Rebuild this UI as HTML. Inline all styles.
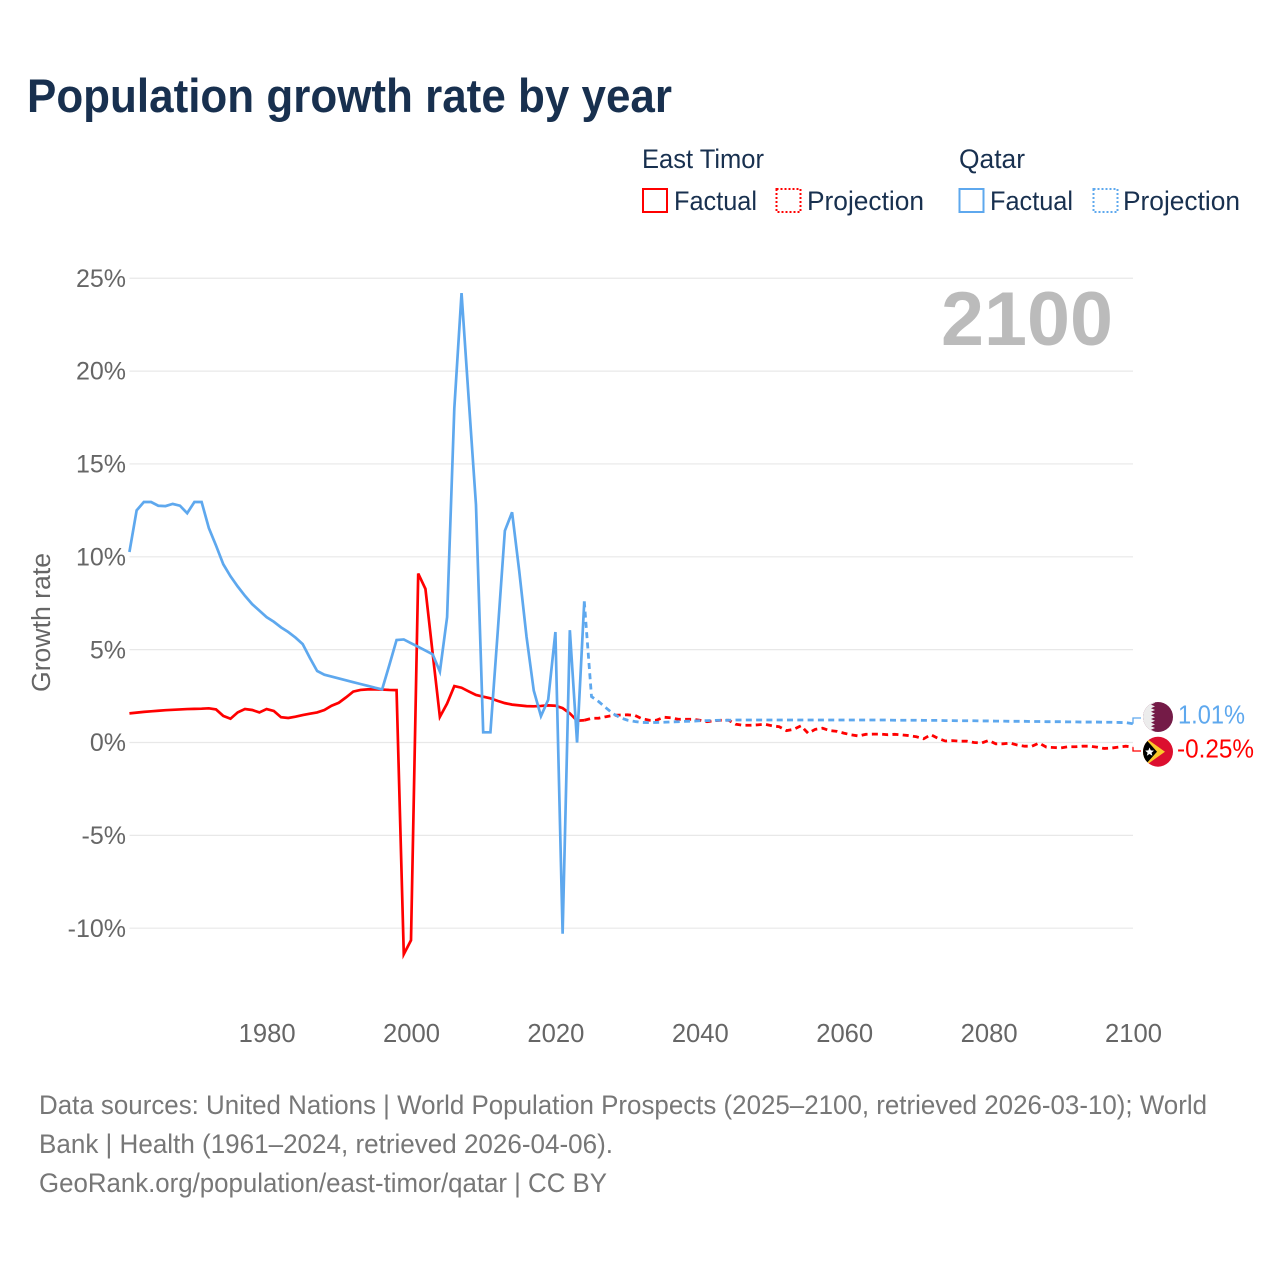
<!DOCTYPE html>
<html lang="en">
<head>
<meta charset="utf-8">
<title>Population growth rate by year</title>
<style>
html,body{margin:0;padding:0;background:#fff;}
svg{display:block;font-family:"Liberation Sans",sans-serif;}
</style>
</head>
<body>
<svg id="chart" xmlns="http://www.w3.org/2000/svg" width="1280" height="1280" viewBox="0 0 1280 1280">
  <defs>
    <clipPath id="clip-qatar"><circle cx="1158" cy="717" r="15"/></clipPath>
    <clipPath id="clip-timor"><circle cx="1158" cy="751.7" r="15"/></clipPath>
  </defs>
  <rect x="0" y="0" width="1280" height="1280" fill="#ffffff"/>

  <text x="27" y="112" font-size="47" font-weight="700" fill="#18304f" textLength="645" lengthAdjust="spacingAndGlyphs">Population growth rate by year</text>

  <g font-size="27" fill="#18304f">
    <text x="642" y="168" textLength="122" lengthAdjust="spacingAndGlyphs">East Timor</text>
    <text x="959" y="168" textLength="66" lengthAdjust="spacingAndGlyphs">Qatar</text>
    <rect x="643" y="189" width="24" height="23" fill="none" stroke="#ff0000" stroke-width="2"/>
    <text x="674" y="210" textLength="83" lengthAdjust="spacingAndGlyphs">Factual</text>
    <rect x="776.5" y="189" width="24" height="23" fill="none" stroke="#ff0000" stroke-width="2" stroke-dasharray="2 2"/>
    <text x="807" y="210" textLength="117" lengthAdjust="spacingAndGlyphs">Projection</text>
    <rect x="959.5" y="189" width="24" height="23" fill="none" stroke="#5ea8ee" stroke-width="2"/>
    <text x="990" y="210" textLength="83" lengthAdjust="spacingAndGlyphs">Factual</text>
    <rect x="1093.5" y="189" width="24" height="23" fill="none" stroke="#5ea8ee" stroke-width="2" stroke-dasharray="2 2"/>
    <text x="1123" y="210" textLength="117" lengthAdjust="spacingAndGlyphs">Projection</text>
  </g>

  <g id="grid"></g>
  <g id="yticks" font-size="25" fill="#666666" text-anchor="end"></g>
  <g id="xticks" font-size="25.6" fill="#666666" text-anchor="middle"></g>

  <text transform="translate(50,622.5) rotate(-90)" font-size="25.5" fill="#666666" text-anchor="middle" textLength="139" lengthAdjust="spacingAndGlyphs">Growth rate</text>

  <text x="1113" y="345" font-size="76" font-weight="700" fill="#bbbbbb" text-anchor="end" textLength="172" lengthAdjust="spacingAndGlyphs">2100</text>

  <g id="series"></g>

  <g clip-path="url(#clip-qatar)">
    <rect x="1142" y="701" width="32" height="32" fill="#741b47"/>
    <polygon points="1142,701 1151,701 1155,702.8 1151,704.6 1155,706.4 1151,708.2 1155,710 1151,711.8 1155,713.6 1151,715.4 1155,717.2 1151,719 1155,720.8 1151,722.6 1155,724.4 1151,726.2 1155,728 1151,729.8 1155,731.6 1151,733 1142,733" fill="#ececec"/>
  </g>
  <g clip-path="url(#clip-timor)">
    <rect x="1142" y="736" width="32" height="32" fill="#dc0f2f"/>
    <polygon points="1143,736 1165,751.7 1143,767.4" fill="#fbc82a"/>
    <polygon points="1143,736 1157,751.7 1143,767.4" fill="#000000"/>
    <polygon points="1149.5,747.5 1150.8,750.4 1154,750.6 1151.5,752.7 1152.4,755.8 1149.5,754 1146.8,755.8 1147.6,752.7 1145.2,750.6 1148.4,750.4" fill="#ffffff"/>
  </g>

  <g font-size="27" fill="#777777">
    <text x="39" y="1114" textLength="1168" lengthAdjust="spacingAndGlyphs">Data sources: United Nations | World Population Prospects (2025–2100, retrieved 2026-03-10); World</text>
    <text x="39" y="1153" textLength="574" lengthAdjust="spacingAndGlyphs">Bank | Health (1961–2024, retrieved 2026-04-06).</text>
    <text x="39" y="1192" textLength="568" lengthAdjust="spacingAndGlyphs">GeoRank.org/population/east-timor/qatar | CC BY</text>
  </g>
</svg>

<script>
const yTickValues = [25, 20, 15, 10, 5, 0, -5, -10];
const yTickLabels = ["25%", "20%", "15%", "10%", "5%", "0%", "-5%", "-10%"];
const xTickYears = [1980, 2000, 2020, 2040, 2060, 2080, 2100];
const factualStartYear = 1961;
const projectionStartYear = 2024;

const qatarFactual = [
  10.26, 12.5, 12.95, 12.95, 12.75, 12.73, 12.85, 12.75, 12.35, 12.95,
  12.95, 11.55, 10.6, 9.6, 8.95, 8.4, 7.9, 7.45, 7.1, 6.75,
  6.5, 6.2, 5.95, 5.65, 5.3, 4.55, 3.85, 3.65, 3.55, 3.45,
  3.35, 3.25, 3.15, 3.05, 2.95, 2.86, 4.17, 5.52, 5.55, 5.35,
  5.15, 4.95, 4.75, 3.82, 6.75, 18.0, 24.2, 18.45, 12.8, 0.55,
  0.55, 5.9, 11.4, 12.4, 9.2, 5.7, 2.8, 1.42, 2.3, 5.95,
  -10.3, 6.05, 0.0, 7.6
];

const eastTimorFactual = [
  1.57, 1.61, 1.65, 1.68, 1.71, 1.74, 1.76, 1.78, 1.8, 1.81,
  1.82, 1.84, 1.78, 1.43, 1.28, 1.62, 1.8, 1.75, 1.62, 1.8,
  1.7, 1.36, 1.32, 1.39, 1.48, 1.55, 1.62, 1.75, 1.98, 2.14,
  2.43, 2.74, 2.83, 2.86, 2.86, 2.85, 2.83, 2.82, -11.4, -10.65,
  9.1, 8.27, 4.8, 1.38, 2.1, 3.04, 2.95, 2.75, 2.56, 2.47,
  2.38, 2.24, 2.12, 2.04, 2.0, 1.96, 1.95, 1.97, 2.0, 1.98,
  1.85, 1.57, 1.17, 1.2
];

const qatarProjection = [
  7.6, 2.47, 2.2, 1.87, 1.55, 1.33, 1.2, 1.13, 1.08, 1.07,
  1.08, 1.09, 1.11, 1.12, 1.14, 1.15, 1.17, 1.18, 1.19, 1.2,
  1.2, 1.21, 1.21, 1.21, 1.21, 1.21, 1.21, 1.21, 1.21, 1.21,
  1.21, 1.21, 1.21, 1.21, 1.21, 1.21, 1.21, 1.21, 1.21, 1.21,
  1.21, 1.21, 1.21, 1.2, 1.2, 1.2, 1.2, 1.19, 1.19, 1.19,
  1.18, 1.18, 1.17, 1.17, 1.17, 1.16, 1.16, 1.15, 1.15, 1.14,
  1.14, 1.14, 1.13, 1.13, 1.12, 1.12, 1.12, 1.11, 1.11, 1.1,
  1.1, 1.1, 1.09, 1.09, 1.08, 1.07, 1.01
];

const eastTimorProjection = [
  1.2, 1.3, 1.31, 1.39, 1.46, 1.48, 1.49, 1.46, 1.28, 1.2,
  1.2, 1.36, 1.33, 1.25, 1.25, 1.25, 1.2, 1.12, 1.17, 1.2,
  1.2, 0.98, 0.93, 0.93, 0.95, 0.98, 0.9, 0.85, 0.64, 0.71,
  0.9, 0.5, 0.71, 0.77, 0.64, 0.6, 0.5, 0.41, 0.35, 0.44,
  0.45, 0.45, 0.42, 0.44, 0.41, 0.37, 0.31, 0.2, 0.42, 0.22,
  0.08, 0.1, 0.07, 0.07, 0, -0.03, 0.11, -0.07, -0.07, -0.03,
  -0.14, -0.2, -0.2, -0.03, -0.25, -0.27, -0.29, -0.23, -0.23, -0.2,
  -0.2, -0.25, -0.32, -0.3, -0.25, -0.2, -0.25
];

const SVG_NS = "http://www.w3.org/2000/svg";
function xScale(year) { return 1133 + (year - 2100) * 7.22; }
function yScale(value) { return 742.5 - value * 18.57; }
function linePath(values, startYear) {
  return values.map(function (v, i) {
    return (i ? "L" : "M") + xScale(startYear + i).toFixed(2) + " " + yScale(v).toFixed(2);
  }).join(" ");
}
function make(tag, attrs, parent) {
  const el = document.createElementNS(SVG_NS, tag);
  Object.keys(attrs).forEach(function (k) { el.setAttribute(k, attrs[k]); });
  parent.appendChild(el);
  return el;
}

const gridGroup = document.getElementById("grid");
const yTickGroup = document.getElementById("yticks");
const xTickGroup = document.getElementById("xticks");
const seriesGroup = document.getElementById("series");

yTickValues.forEach(function (v, i) {
  const line = make("line", { x1: 129.5, x2: 1133, y1: yScale(v), y2: yScale(v), stroke: "#e8e8e8", "stroke-width": 1.2 }, gridGroup);
  
  
  const label = make("text", { x: 126, y: yScale(v) + 8.6 }, yTickGroup);
  
  
  label.textContent = yTickLabels[i];
});

xTickYears.forEach(function (yr) {
  const label = make("text", { x: xScale(yr) + 0.5, y: 1042 }, xTickGroup);
  
  
  label.textContent = String(yr);
});

const RED = "#ff0000";
const BLUE = "#5ea8ee";

const timorFactualLine = make("path", { d: linePath(eastTimorFactual, factualStartYear), fill: "none", stroke: RED, "stroke-width": 2.7, "stroke-linejoin": "miter" }, seriesGroup);



const timorProjectionLine = make("path", { d: linePath(eastTimorProjection, projectionStartYear), fill: "none", stroke: RED, "stroke-width": 2.8, "stroke-dasharray": "6 4.3" }, seriesGroup);



const qatarFactualLine = make("path", { d: linePath(qatarFactual, factualStartYear), fill: "none", stroke: BLUE, "stroke-width": 2.7, "stroke-linejoin": "miter" }, seriesGroup);



const qatarProjectionLine = make("path", { d: linePath(qatarProjection, projectionStartYear), fill: "none", stroke: BLUE, "stroke-width": 2.8, "stroke-dasharray": "6 4.3" }, seriesGroup);



const qatarLast = qatarProjection[qatarProjection.length - 1];
const timorLast = eastTimorProjection[eastTimorProjection.length - 1];

const qatarConnector = make("path", { d: "M" + xScale(2100) + " " + yScale(qatarLast) + " V718 H1141", fill: "none", stroke: BLUE, "stroke-width": 1.3 }, seriesGroup);



const timorConnector = make("path", { d: "M" + xScale(2100) + " " + yScale(timorLast) + " V751 H1141", fill: "none", stroke: RED, "stroke-width": 1.3 }, seriesGroup);



const qatarEndLabel = make("text", { x: 1178, y: 723.5, "font-size": 26, fill: BLUE, textLength: 67, lengthAdjust: "spacingAndGlyphs" }, seriesGroup);


qatarEndLabel.textContent = qatarLast.toFixed(2) + "%";

const timorEndLabel = make("text", { x: 1177, y: 757.5, "font-size": 26, fill: RED, textLength: 77, lengthAdjust: "spacingAndGlyphs" }, seriesGroup);


timorEndLabel.textContent = timorLast.toFixed(2) + "%";
</script>
</body>
</html>
